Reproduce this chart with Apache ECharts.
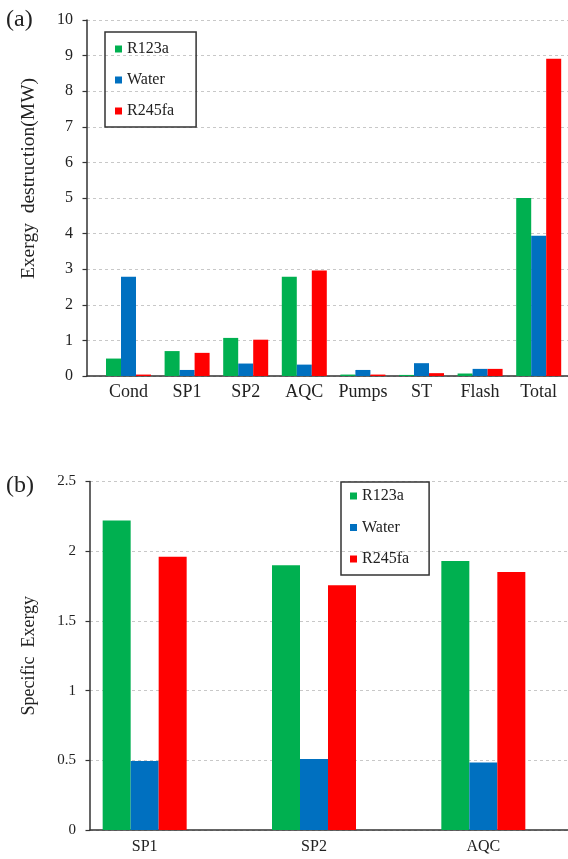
<!DOCTYPE html>
<html>
<head>
<meta charset="utf-8">
<script src="https://cdn.jsdelivr.net/npm/echarts@6/dist/echarts.min.js"></script>
<style>
  html, body { margin: 0; padding: 0; background: #fff; }
  #chart { width: 568px; height: 859px; }
</style>
</head>
<body>
<div id="chart"></div>
<script>
// ---- data (a) ----
const categoriesA = ['Cond', 'SP1', 'SP2', 'AQC', 'Pumps', 'ST', 'Flash', 'Total'];
const r123aA  = [0.49, 0.70, 1.07, 2.79, 0.04, 0.03, 0.07, 5.00];
const waterA  = [2.79, 0.17, 0.35, 0.32, 0.17, 0.36, 0.20, 3.94];
const r245faA = [0.04, 0.65, 1.02, 2.96, 0.04, 0.08, 0.20, 8.91];
const yMinA = 0, yMaxA = 10, yStepA = 1;

// ---- data (b) ----
const categoriesB = ['SP1', 'SP2', 'AQC'];
const r123aB  = [2.22, 1.90, 1.93];
const waterB  = [0.495, 0.51, 0.485];
const r245faB = [1.96, 1.755, 1.85];
const yMinB = 0, yMaxB = 2.5, yStepB = 0.5;

const seriesNames = ['R123a', 'Water', 'R245fa'];
const colors = ['#00b050', '#0070c0', '#ff0000'];

const FONT = "'Liberation Serif', 'Times New Roman', serif";
const TXT = '#222';
const AXIS = '#333';

const chart = echarts.init(document.getElementById('chart'), null, { renderer: 'canvas' });

function decoY(min, max, step, name, gap, fs, nfs, pad) {
  return {
    type: 'value', min: min, max: max, interval: step,
    axisLine: { show: true, lineStyle: { color: AXIS, width: 1.5 } },
    axisTick: { show: true, length: 4.5, lineStyle: { color: AXIS, width: 1.2 } },
    axisLabel: { color: TXT, fontFamily: FONT, fontSize: fs, margin: 14 },
    splitLine: { show: true, lineStyle: { color: '#c8c8c8', type: [3, 3], width: 1 } },
    name: name, nameLocation: 'middle', nameGap: gap,
    nameTextStyle: { color: TXT, fontFamily: FONT, fontSize: nfs, padding: pad }
  };
}
function decoX() {
  return {
    type: 'value', min: 0, max: 1,
    axisLine: { show: true, onZero: false, lineStyle: { color: AXIS, width: 1.5 } },
    axisTick: { show: false }, axisLabel: { show: false }, splitLine: { show: false }
  };
}
function mainX(cats, fs, margin) {
  return {
    type: 'category', data: cats,
    axisLine: { show: false }, axisTick: { show: false },
    axisLabel: { color: TXT, fontFamily: FONT, fontSize: fs, margin: margin, interval: 0 },
    splitLine: { show: false }
  };
}
function mainY(min, max) {
  return { type: 'value', min: min, max: max, show: false, splitLine: { show: false } };
}
function legend(left, top, padding, gap) {
  return {
    data: seriesNames, orient: 'vertical', left: left, top: top,
    icon: 'rect', itemWidth: 7, itemHeight: 7, itemGap: gap,
    padding: padding, borderColor: '#333', borderWidth: 1.5,
    textStyle: { color: TXT, fontFamily: FONT, fontSize: 16, lineHeight: 16 },
    selectedMode: false
  };
}

const valsA = [r123aA, waterA, r245faA];
const valsB = [r123aB, waterB, r245faB];
const series = [];
seriesNames.forEach((n, i) => {
  series.push({
    name: n, type: 'bar', xAxisIndex: 1, yAxisIndex: 1,
    data: valsA[i], barWidth: 15, barGap: '0%',
    itemStyle: { color: colors[i] }
  });
});
seriesNames.forEach((n, i) => {
  series.push({
    name: n, type: 'bar', xAxisIndex: 3, yAxisIndex: 3,
    data: valsB[i], barWidth: 28, barGap: '0%',
    itemStyle: { color: colors[i] }
  });
});

chart.setOption({
  animation: false,
  color: colors,
  title: [
    { text: '(a)', left: 6, top: 8, padding: 0,
      textStyle: { fontFamily: FONT, fontSize: 24, fontWeight: 'normal', color: TXT } },
    { text: '(b)', left: 6, top: 474, padding: 0,
      textStyle: { fontFamily: FONT, fontSize: 24, fontWeight: 'normal', color: TXT } }
  ],
  legend: [
    legend(105, 32, [9, 22, 8, 10], 15),
    legend(341, 482, [6, 20, 8, 9], 15.5)
  ],
  grid: [
    { left: 87, right: 0, top: 20, bottom: 859 - 376 },
    { left: 99.2, right: 0, top: 20, bottom: 859 - 376 },
    { left: 90, right: 0, top: 481.5, bottom: 859 - 830 },
    { left: 60, width: 534, top: 481.5, bottom: 859 - 830 }
  ],
  xAxis: [
    Object.assign(decoX(), { gridIndex: 0 }),
    Object.assign(mainX(categoriesA, 18, 7), { gridIndex: 1 }),
    Object.assign(decoX(), { gridIndex: 2 }),
    Object.assign(mainX(categoriesB, 16, 9), { gridIndex: 3 })
  ],
  yAxis: [
    Object.assign(decoY(yMinA, yMaxA, yStepA, 'Exergy  destruction(MW)', 48, 16, 19.5, [0, 0, 0, 39]), { gridIndex: 0 }),
    Object.assign(mainY(yMinA, yMaxA), { gridIndex: 1 }),
    Object.assign(decoY(yMinB, yMaxB, yStepB, 'Specific  Exergy', 52, 15, 18, 0), { gridIndex: 2 }),
    Object.assign(mainY(yMinB, yMaxB), { gridIndex: 3 })
  ],
  series: series
});
</script>
</body>
</html>
